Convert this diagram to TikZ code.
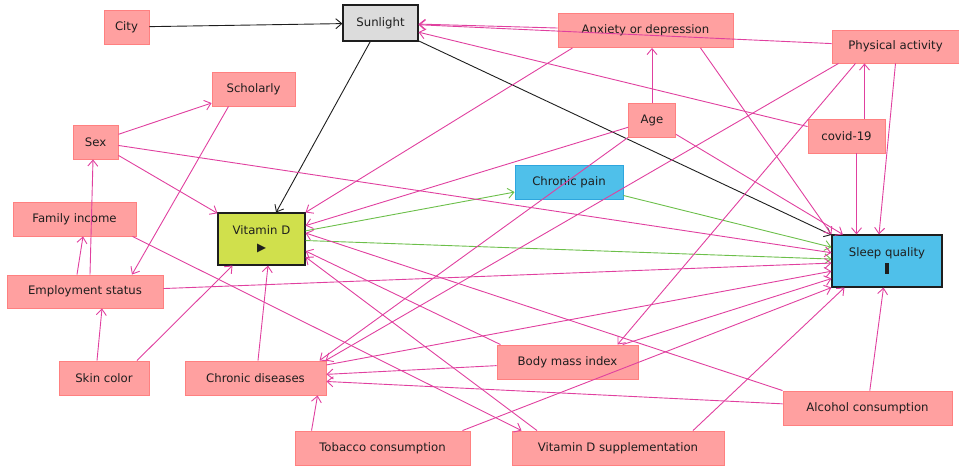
\documentclass[tikz,border=0pt]{standalone}
\usepackage{fontspec}
\setmainfont{DejaVu Sans}
\usepackage{tikz}
\usetikzlibrary{arrows.meta}
\definecolor{ancfill}{HTML}{FFA0A0}
\definecolor{ancline}{HTML}{FF8080}
\definecolor{edgepink}{HTML}{E0409F}
\definecolor{edgegreen}{HTML}{6CBF4A}
\definecolor{bluefill}{HTML}{4FC0EA}
\definecolor{blueline}{HTML}{2EA6DE}
\definecolor{limefill}{HTML}{D0E04C}
\definecolor{greyfill}{HTML}{DCDCDC}
\definecolor{ink}{HTML}{1E1E1E}
\tikzset{
  box/.style={rectangle, inner sep=0pt, minimum height=34pt, text=ink, font=\fontsize{11.7}{14}\selectfont},
  anc/.style={box, draw=ancline, fill=ancfill, line width=0.9pt},
  expo/.style={box, draw=ink, fill=limefill, line width=1.1pt, minimum height=52pt, align=center},
  outc/.style={box, draw=ink, fill=bluefill, line width=1.1pt, minimum height=52pt, align=center},
  med/.style={box, draw=blueline, fill=bluefill, line width=0.9pt},
  oth/.style={box, draw=ink, fill=greyfill, line width=1.1pt, minimum height=36pt},
  pk/.style={draw=edgepink, line width=0.9pt, -{Straight Barb[length=6pt,width=10pt]}},
  gr/.style={draw=edgegreen, line width=0.9pt, -{Straight Barb[length=6pt,width=10pt]}},
  bk/.style={draw=ink, line width=0.9pt, -{Straight Barb[length=6pt,width=10pt]}},
}

\begin{document}
\begin{tikzpicture}[x=1pt,y=-1pt]
  \useasboundingbox (0,0) rectangle (959,468);

  \node[anc, minimum width=45pt] (city) at (126.5,27) {City};
  \node[oth, minimum width=75pt] (sun) at (380.5,23) {Sunlight};
  \node[anc, minimum width=175pt] (anx) at (645.5,30.5) {Anxiety or depression};
  \node[anc, minimum width=127pt, minimum height=33pt] (pa) at (895.5,46.5) {Physical activity};
  \node[anc, minimum width=83pt] (schol) at (253.5,89) {Scholarly};
  \node[anc, minimum width=47pt] (age) at (652,120) {Age};
  \node[anc, minimum width=77pt] (covid) at (846.5,136) {covid-19};
  \node[anc, minimum width=45pt] (sex) at (95.5,142) {Sex};
  \node[med, minimum width=108pt] (cp) at (569,182) {Chronic pain};
  \node[anc, minimum width=123pt] (fam) at (74.5,219) {Family income};
  \node[expo, minimum width=87pt] (vitd) at (261.5,239) {Vitamin D\\[3pt]▶};
  \node[outc, minimum width=110pt] (sleep) at (887,261) {Sleep quality\\[3pt]\rule{4pt}{11pt}};
  \node[anc, minimum width=156pt, minimum height=33pt] (emp) at (85,291.5) {Employment status};
  \node[anc, minimum width=90pt] (skin) at (104,378) {Skin color};
  \node[anc, minimum width=141pt] (cd) at (255.5,378) {Chronic diseases};
  \node[anc, minimum width=141pt] (bmi) at (567.5,362) {Body mass index};
  \node[anc, minimum width=169pt] (alc) at (867.5,408) {Alcohol consumption};
  \node[anc, minimum width=175pt] (tob) at (382.5,448) {Tobacco consumption};
  \node[anc, minimum width=212pt] (vds) at (618,448) {Vitamin D supplementation};

  \draw[bk] (city) -- (sun);
  \draw[bk] (sun) -- (vitd);
  \draw[bk] (sun) -- (sleep);

  \draw[gr] (vitd) -- (cp);
  \draw[gr] (vitd) -- (sleep);
  \draw[gr] (cp) -- (sleep);

  \draw[pk] (anx) -- (sun);
  \draw[pk] (pa) -- (sun);
  \draw[pk] (covid) -- (sun);
  \draw[pk] (age.north) -- (age.north |- anx.south);
  \draw[pk] ([xshift=18pt]covid.north) -- ([xshift=18pt]covid.north |- pa.south);
  \draw[pk] ([xshift=10pt]covid.south) -- ([xshift=10pt]covid.south |- sleep.north);
  \draw[pk] (pa.south) -- ([xshift=-8pt]sleep.north);
  \draw[pk] ([xshift=55pt]anx.south) -- (sleep.north west);
  \draw[pk] ([xshift=-73pt]anx.south) -- (vitd.north east);
  \draw[pk] (age) -- (vitd);
  \draw[pk] (age) -- (sleep);
  \draw[pk] (age.south west) -- ([xshift=64pt]cd.north);
  \draw[pk] ([xshift=-57pt]pa.south) -- ([xshift=70pt]cd.north);
  \draw[pk] ([xshift=-40pt]pa.south) -- ([xshift=50pt]bmi.north);
  \draw[pk] (sex) -- (schol);
  \draw[pk] (sex) -- (vitd);
  \draw[pk] (sex) -- (sleep);
  \draw[pk] ([xshift=5pt]emp.north) -- ([xshift=-2.5pt]sex.south);
  \draw[pk] ([xshift=-8pt]emp.north) -- ([xshift=8.5pt]fam.south);
  \draw[pk] ([xshift=-25pt]schol.south) -- ([xshift=47pt]emp.north);
  \draw[pk] ([xshift=58pt]fam.south) -- ([xshift=10pt]vds.north west);
  \draw[pk] (emp) -- (sleep);
  \draw[pk] ([xshift=-7pt]skin.north) -- ([xshift=17pt]emp.south);
  \draw[pk] ([xshift=33pt]skin.north) -- ([xshift=-29pt]vitd.south);
  \draw[pk] ([xshift=2.5pt]cd.north) -- ([xshift=6.5pt]vitd.south);
  \draw[pk] (cd) -- (sleep);
  \draw[pk] ([xshift=-67pt]bmi.north) -- ([yshift=-12pt]vitd.east);
  \draw[pk] (bmi) -- (cd);
  \draw[pk] (bmi) -- (sleep);
  \draw[pk] (alc) -- (cd);
  \draw[pk] (alc.north west) -- ([yshift=6pt]vitd.east);
  \draw[pk] (alc) -- (sleep);
  \draw[pk] ([xshift=17pt]tob.north west) -- ([xshift=133pt]cd.south west);
  \draw[pk] ([xshift=80pt]tob.north) -- (sleep.south west);
  \draw[pk] ([xshift=-81pt]vds.north) -- ([yshift=-18pt]vitd.east);
  \draw[pk] ([xshift=75pt]vds.north) -- ([xshift=13pt]sleep.south west);
\end{tikzpicture}
\end{document}
